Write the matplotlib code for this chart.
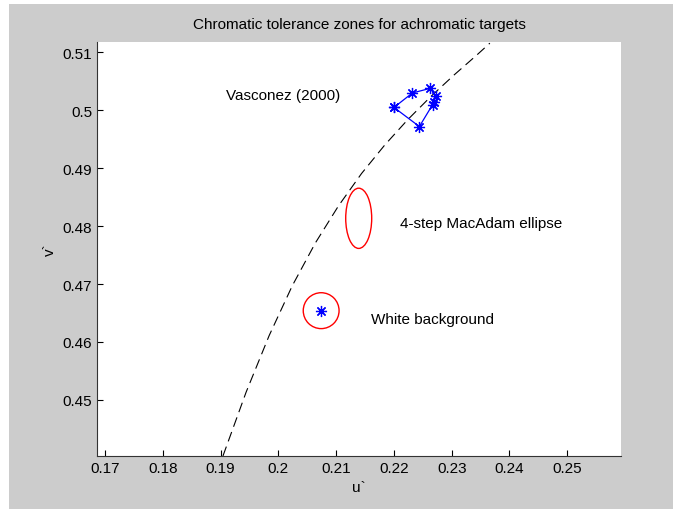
import matplotlib
matplotlib.use("Agg")
import matplotlib.pyplot as plt
from matplotlib.patches import Ellipse, Rectangle

plt.rcParams['font.family'] = ['Liberation Sans', 'DejaVu Sans']

# dashed locus (u', v')
locus_u = [0.1904, 0.1944, 0.1984, 0.2024, 0.2064, 0.2104, 0.2144, 0.2184, 0.2224, 0.2264, 0.2304, 0.2344, 0.2366]
locus_v = [0.4403, 0.4513, 0.4611, 0.4697, 0.4771, 0.4835, 0.4891, 0.4940, 0.4984, 0.5024, 0.5061, 0.5096, 0.5116]

# Vasconez (2000) tolerance polygon
vasc_u = [0.2200, 0.2232, 0.2263, 0.2272, 0.2269, 0.2267, 0.2244, 0.2200]
vasc_v = [0.5005, 0.5030, 0.5038, 0.5024, 0.5015, 0.5010, 0.4972, 0.5005]

# white background point and its tolerance circle
white_u, white_v = 0.2074, 0.4654
white_w, white_h = 0.0062, 0.0062

# 4-step MacAdam ellipse
mac_u, mac_v = 0.2139, 0.48135
mac_w, mac_h = 0.0045, 0.0104

star = (8, 2, 0)
fs = 11

fig = plt.figure(figsize=(6.73, 5.10), dpi=100, facecolor='white')
fig.patches.append(Rectangle((9 / 673, 0), 1, 1 - 5 / 510, transform=fig.transFigure,
                             facecolor='#cccccc', edgecolor='none', zorder=-1))
ax = fig.add_axes([97 / 673, 1 - 457 / 510, (621 - 97) / 673, (457 - 43) / 510])

ax.plot(locus_u, locus_v, color='black', linestyle=(0, (9, 5)), linewidth=0.8)
ax.plot(vasc_u, vasc_v, color='blue', linewidth=0.9, marker=star, markersize=8,
        markeredgewidth=0.9)
ax.plot([white_u], [white_v], color='blue', marker=star, markersize=8, markeredgewidth=0.9)
ax.add_patch(Ellipse((white_u, white_v), white_w, white_h, fill=False, edgecolor='red', linewidth=1))
ax.add_patch(Ellipse((mac_u, mac_v), mac_w, mac_h, fill=False, edgecolor='red', linewidth=1))

ax.text(0.1909, 0.5026, 'Vasconez (2000)', fontsize=fs, va='center')
ax.text(0.2210, 0.4805, '4-step MacAdam ellipse', fontsize=fs, va='center')
ax.text(0.2160, 0.4640, 'White background', fontsize=fs, va='center')

ax.set_xlim(0.1686, 0.2593)
ax.set_ylim(0.4403, 0.5118)
ax.set_xticks([0.17, 0.18, 0.19, 0.2, 0.21, 0.22, 0.23, 0.24, 0.25])
ax.set_xticklabels(['0.17', '0.18', '0.19', '0.2', '0.21', '0.22', '0.23', '0.24', '0.25'])
ax.set_yticks([0.45, 0.46, 0.47, 0.48, 0.49, 0.5, 0.51])
ax.set_yticklabels(['0.45', '0.46', '0.47', '0.48', '0.49', '0.5', '0.51'])
ax.tick_params(labelsize=fs, direction='in', length=4, width=0.8)
for side in ['top', 'right']:
    ax.spines[side].set_visible(False)
for side in ['left', 'bottom']:
    ax.spines[side].set_color('#333333')
ax.set_xlabel('u`', fontsize=fs)
ax.set_ylabel('v`', fontsize=fs)
ax.set_title('Chromatic tolerance zones for achromatic targets', fontsize=fs, pad=10)

fig.savefig('out.png', dpi=100, facecolor=fig.get_facecolor())
